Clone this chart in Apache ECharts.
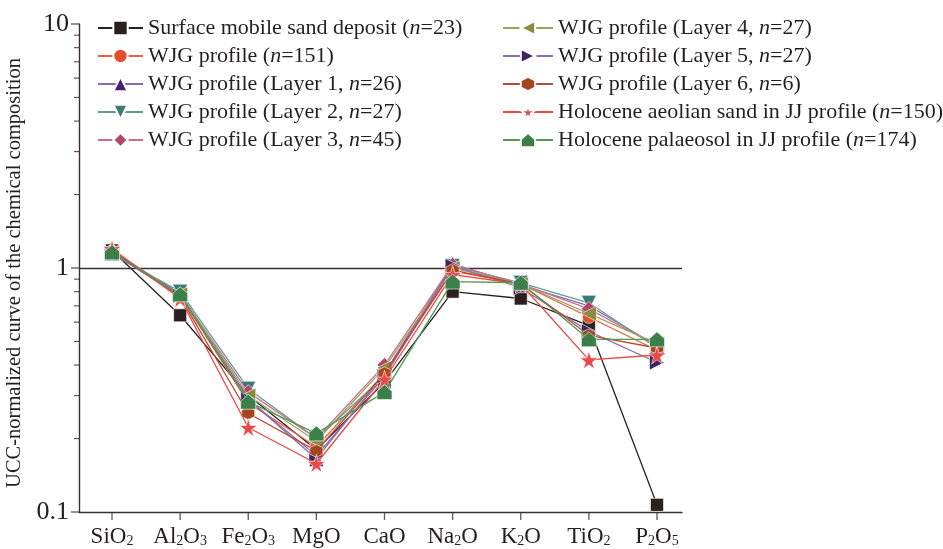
<!DOCTYPE html>
<html><head><meta charset="utf-8">
<script src="https://cdn.jsdelivr.net/npm/echarts@6/dist/echarts.min.js"></script>
<style>html,body{margin:0;padding:0;background:#fff}#c{width:943px;height:549px}</style>
</head><body><div id="c"></div>
<script>
// Categories (oxides) – rendered with subscripts
const categories = ['SiO2','Al2O3','Fe2O3','MgO','CaO','Na2O','K2O','TiO2','P2O5'];
const categoryRich = ['SiO{s|2}','Al{s|2}O{s|3}','Fe{s|2}O{s|3}','MgO','CaO','Na{s|2}O','K{s|2}O','TiO{s|2}','P{s|2}O{s|5}'];
const yMajorTicks = [0.1, 1, 10];
const yMinorTicks = [0.2,0.3,0.4,0.5,0.6,0.7,0.8,0.9,2,3,4,5,6,7,8,9];
const referenceLevel = 1;

const seriesNames = [
  'Surface mobile sand deposit (n=23)',
  'WJG profile (n=151)',
  'WJG profile (Layer 1, n=26)',
  'WJG profile (Layer 2, n=27)',
  'WJG profile (Layer 3, n=45)',
  'WJG profile (Layer 4, n=27)',
  'WJG profile (Layer 5, n=27)',
  'WJG profile (Layer 6, n=6)',
  'Holocene aeolian sand in JJ profile (n=150)',
  'Holocene palaeosol in JJ profile (n=174)'
];
const surface   = [1.18, 0.64, 0.30, 0.18, 0.34, 0.80, 0.75, 0.58, 0.107];
const wjgAll    = [1.17, 0.77, 0.28, 0.185, 0.37, 0.97, 0.86, 0.63, 0.46];
const layer1    = [1.15, 0.79, 0.29, 0.165, 0.37, 1.04, 0.85, 0.70, 0.48];
const layer2    = [1.14, 0.80, 0.32, 0.20, 0.36, 1.02, 0.87, 0.72, 0.47];
const layer3    = [1.18, 0.78, 0.31, 0.20, 0.40, 1.03, 0.86, 0.68, 0.48];
const layer4    = [1.16, 0.78, 0.30, 0.195, 0.39, 1.00, 0.86, 0.65, 0.49];
const layer5    = [1.15, 0.77, 0.29, 0.17, 0.36, 1.02, 0.83, 0.55, 0.41];
const layer6    = [1.17, 0.76, 0.254, 0.178, 0.37, 0.98, 0.86, 0.53, 0.47];
const aeolian   = [1.20, 0.75, 0.222, 0.158, 0.35, 0.94, 0.86, 0.42, 0.44];
const palaeosol = [1.16, 0.78, 0.283, 0.21, 0.31, 0.88, 0.87, 0.51, 0.51];
const seriesValues = [surface, wjgAll, layer1, layer2, layer3, layer4, layer5, layer6, aeolian, palaeosol];

const markerColors = ['#2b1f1f','#e4502a','#4b1f6e','#3c7a78','#b2456a','#8b8a3e','#3b2663','#a3461e','#e84a4a','#3d7f48'];
const lineColors   = ['#2b1f1f','#e8603c','#8a6aa8','#5f9c99','#c87090','#a0a060','#8a70a8','#b84a30','#ee4444','#4e9a55'];
const HEX = 'path://M5,0 L9.33,2.5 L9.33,7.5 L5,10 L0.67,7.5 L0.67,2.5 Z';
const STAR = 'path://M50,0 L61,35 L98,35 L68,57 L79,91 L50,70 L21,91 L32,57 L2,35 L39,35 Z';
const HOUSE = 'path://M5,0 L10,4.5 L10,10 L0,10 L0,4.5 Z';
const symbols = ['rect','circle','triangle','triangle','diamond','triangle','triangle',HEX,STAR,HOUSE];
const rotations = [0,0,0,180,0,90,-90,0,0,0];
const sizes = [13,13,15,15,15,15,15,13,18,15];

const FONT = 'Liberation Serif';
const INK = '#231f20';
const AX = '#3a3030';
const chart = echarts.init(document.getElementById('c'));

const series = seriesValues.map((vals, k) => ({
  name: seriesNames[k],
  type: 'line',
  xAxisIndex: 0, yAxisIndex: 0,
  data: vals,
  symbol: symbols[k],
  symbolSize: sizes[k],
  symbolRotate: rotations[k],
  lineStyle: {color: lineColors[k], width: 1.3},
  itemStyle: {color: markerColors[k], borderColor: '#fff', borderWidth: 0.6, opacity: 1},
  z: 3 + k,
  animation: false
}));
// reference line at UCC = 1 across the full frame (grid 1)
series.push({
  name: 'ref', type: 'line', xAxisIndex: 1, yAxisIndex: 1, data: [],
  symbol: 'none', animation: false, z: 1,
  markLine: {silent: true, symbol: 'none', label: {show: false}, animation: false,
    lineStyle: {color: AX, width: 1.4, type: 'solid'}, data: [{yAxis: referenceLevel}]}
});
// tick marks as thin rect symbols placed by the axes from the tick arrays
function tickSeries(name, xi, yi, data, size, offset) {
  return {
    name: name, type: 'scatter', xAxisIndex: xi, yAxisIndex: yi, data: data,
    symbol: 'rect', symbolSize: size, symbolOffset: offset, clip: false, silent: true,
    itemStyle: {color: AX, borderWidth: 0}, animation: false, z: 20, tooltip: {show: false}
  };
}
series.push(tickSeries('xTicks', 0, 0, categories.map(c => [c, yMajorTicks[0]]), [1.3, 8], [0, 4]));
series.push(tickSeries('yMajor', 1, 1, yMajorTicks.map(v => [0, v]), [8, 1.3], [-4, 0]));
series.push(tickSeries('yMinor', 1, 1, yMinorTicks.map(v => [0, v]), [5, 1.2], [-2.5, 0]));

function fmtLegend(name) { return name.replace(/\bn=/, '{i|n}='); }
const legendText = {
  fontFamily: FONT, fontSize: 22, color: INK,
  rich: {i: {fontStyle: 'italic', fontFamily: FONT, fontSize: 22, color: INK}}
};
const NB = 'none';

chart.setOption({
  backgroundColor: '#fff',
  animation: false,
  grid: [
    {left: 112, right: 286, top: 24, bottom: 37, outerBoundsMode: NB},   // 0 data
    {left: 79, right: 261, top: 24, bottom: 37, outerBoundsMode: NB}     // 1 frame
  ],
  legend: [
    {data: seriesNames.slice(0,5), orient: 'vertical', left: 92, top: 12, itemWidth: 45, itemHeight: 18, itemGap: 6,
     textStyle: legendText, formatter: fmtLegend},
    {data: seriesNames.slice(5), orient: 'vertical', left: 497, top: 12, itemWidth: 50, itemHeight: 18, itemGap: 6,
     textStyle: legendText, formatter: fmtLegend}
  ],
  xAxis: [{
    gridIndex: 0, type: 'category', data: categories, boundaryGap: false,
    axisLine: {show: false}, axisTick: {show: false},
    axisLabel: {
      interval: 0,
      formatter: (v, i) => categoryRich[i],
      margin: 13, color: INK, fontFamily: FONT, fontSize: 23,
      rich: {s: {fontFamily: FONT, fontSize: 14, color: INK, verticalAlign: 'bottom', lineHeight: 14}}
    },
    splitLine: {show: false}
  }, {
    gridIndex: 1, type: 'value', min: 0, max: 1,
    axisLine: {show: true, lineStyle: {color: AX, width: 1.4}},
    axisTick: {show: false}, axisLabel: {show: false}, splitLine: {show: false}
  }],
  yAxis: [{
    gridIndex: 0, type: 'log', logBase: 10, min: 0.1, max: 10, offset: 33,
    splitLine: {show: false},
    axisLine: {show: true, lineStyle: {color: AX, width: 1.4}},
    axisTick: {show: false},
    axisLabel: {formatter: v => String(v), color: INK, fontFamily: FONT, fontSize: 26, margin: 10},
    name: 'UCC-normalized curve of the chemical composition',
    nameLocation: 'middle', nameGap: 52,
    nameTextStyle: {fontFamily: FONT, fontSize: 20.5, color: INK, padding: [0, 10, 0, 0]}
  }, {
    gridIndex: 1, type: 'log', logBase: 10, min: 0.1, max: 10, show: false
  }],
  series: series
});
</script>
</body></html>
